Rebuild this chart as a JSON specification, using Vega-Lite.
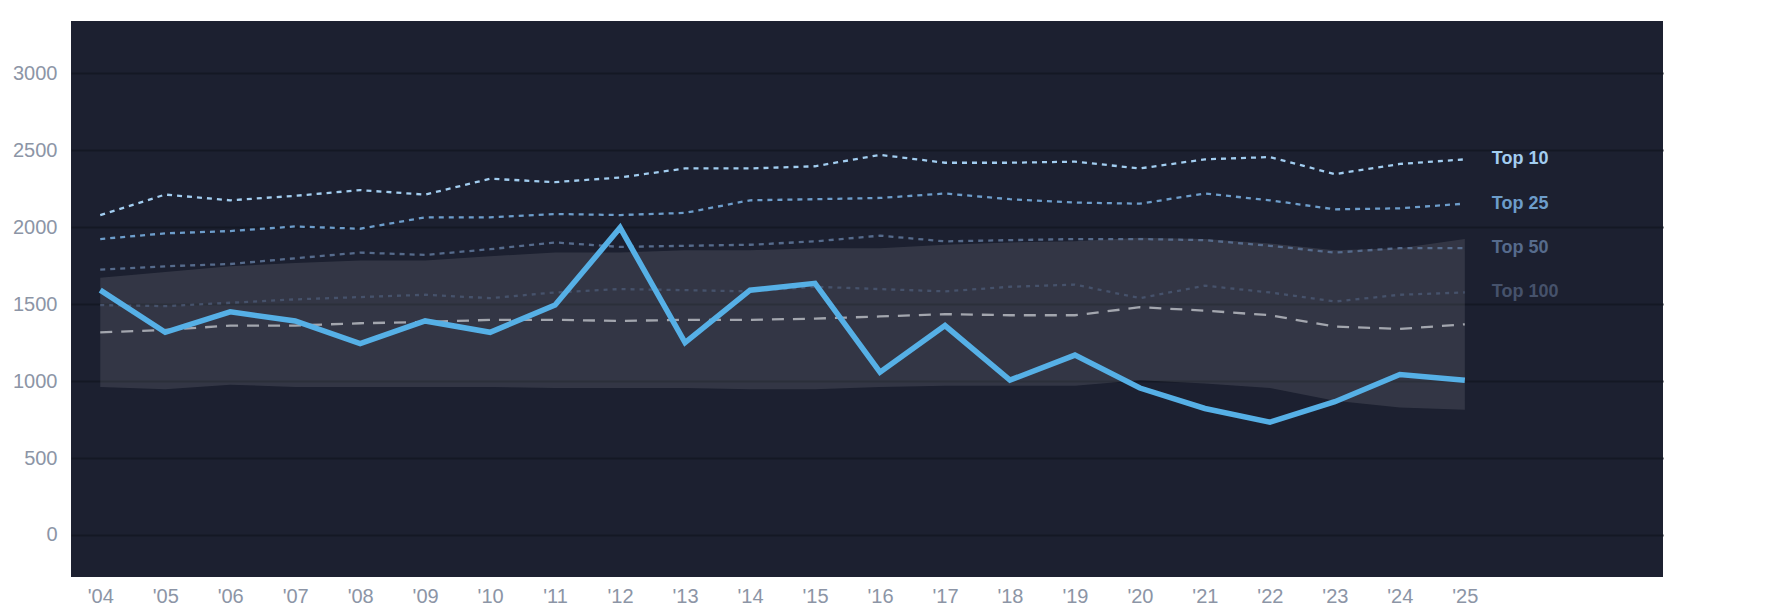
{
  "$schema": "https://vega.github.io/schema/vega-lite/v6.json",
  "autosize": "none",
  "width": 1592,
  "height": 556,
  "padding": {"left": 71, "top": 21, "right": 122, "bottom": 37},
  "background": "#ffffff",
  "config": {
    "view": {"fill": "#1c2030", "stroke": null},
    "font": "Liberation Sans",
    "axis": {
      "labelColor": "#8c95a6",
      "labelFontSize": 20,
      "domain": false,
      "ticks": false,
      "title": null
    }
  },
  "data": {
    "values": [
      {"year": 2004, "main": 1591, "Top 10": 2079, "Top 25": 1923, "Top 50": 1724, "Top 100": 1494, "median": 1317, "lo": 962, "hi": 1672},
      {"year": 2005, "main": 1317, "Top 10": 2212, "Top 25": 1960, "Top 50": 1746, "Top 100": 1487, "median": 1332, "lo": 947, "hi": 1709},
      {"year": 2006, "main": 1450, "Top 10": 2175, "Top 25": 1975, "Top 50": 1761, "Top 100": 1509, "median": 1361, "lo": 977, "hi": 1746},
      {"year": 2007, "main": 1391, "Top 10": 2204, "Top 25": 2005, "Top 50": 1798, "Top 100": 1531, "median": 1361, "lo": 962, "hi": 1768},
      {"year": 2008, "main": 1243, "Top 10": 2241, "Top 25": 1990, "Top 50": 1835, "Top 100": 1546, "median": 1376, "lo": 962, "hi": 1783},
      {"year": 2009, "main": 1391, "Top 10": 2212, "Top 25": 2064, "Top 50": 1820, "Top 100": 1561, "median": 1384, "lo": 962, "hi": 1783},
      {"year": 2010, "main": 1317, "Top 10": 2315, "Top 25": 2064, "Top 50": 1857, "Top 100": 1539, "median": 1398, "lo": 962, "hi": 1812},
      {"year": 2011, "main": 1494, "Top 10": 2293, "Top 25": 2086, "Top 50": 1901, "Top 100": 1576, "median": 1398, "lo": 955, "hi": 1835},
      {"year": 2012, "main": 1997, "Top 10": 2323, "Top 25": 2079, "Top 50": 1872, "Top 100": 1598, "median": 1391, "lo": 955, "hi": 1835},
      {"year": 2013, "main": 1250, "Top 10": 2382, "Top 25": 2093, "Top 50": 1879, "Top 100": 1591, "median": 1398, "lo": 955, "hi": 1850},
      {"year": 2014, "main": 1591, "Top 10": 2382, "Top 25": 2175, "Top 50": 1886, "Top 100": 1583, "median": 1398, "lo": 947, "hi": 1850},
      {"year": 2015, "main": 1635, "Top 10": 2396, "Top 25": 2182, "Top 50": 1908, "Top 100": 1613, "median": 1406, "lo": 947, "hi": 1864},
      {"year": 2016, "main": 1058, "Top 10": 2470, "Top 25": 2190, "Top 50": 1945, "Top 100": 1598, "median": 1420, "lo": 962, "hi": 1864},
      {"year": 2017, "main": 1361, "Top 10": 2419, "Top 25": 2219, "Top 50": 1908, "Top 100": 1583, "median": 1435, "lo": 970, "hi": 1886},
      {"year": 2018, "main": 1006, "Top 10": 2419, "Top 25": 2182, "Top 50": 1916, "Top 100": 1613, "median": 1428, "lo": 970, "hi": 1901},
      {"year": 2019, "main": 1169, "Top 10": 2426, "Top 25": 2160, "Top 50": 1923, "Top 100": 1627, "median": 1428, "lo": 970, "hi": 1908},
      {"year": 2020, "main": 955, "Top 10": 2382, "Top 25": 2153, "Top 50": 1923, "Top 100": 1539, "median": 1480, "lo": 1006, "hi": 1931},
      {"year": 2021, "main": 822, "Top 10": 2441, "Top 25": 2219, "Top 50": 1916, "Top 100": 1620, "median": 1458, "lo": 984, "hi": 1923},
      {"year": 2022, "main": 733, "Top 10": 2456, "Top 25": 2175, "Top 50": 1879, "Top 100": 1576, "median": 1428, "lo": 955, "hi": 1894},
      {"year": 2023, "main": 866, "Top 10": 2345, "Top 25": 2116, "Top 50": 1835, "Top 100": 1517, "median": 1354, "lo": 873, "hi": 1850},
      {"year": 2024, "main": 1043, "Top 10": 2411, "Top 25": 2123, "Top 50": 1864, "Top 100": 1561, "median": 1339, "lo": 829, "hi": 1864},
      {"year": 2025, "main": 1006, "Top 10": 2441, "Top 25": 2153, "Top 50": 1864, "Top 100": 1576, "median": 1369, "lo": 814, "hi": 1923}
    ]
  },
  "encoding": {
    "x": {
      "field": "year",
      "type": "quantitative",
      "scale": {"domain": [2003.55, 2028.05], "nice": false, "zero": false},
      "axis": {
        "values": [2004, 2005, 2006, 2007, 2008, 2009, 2010, 2011, 2012, 2013, 2014, 2015, 2016, 2017, 2018, 2019, 2020, 2021, 2022, 2023, 2024, 2025],
        "labelExpr": "\"'\" + substring(toString(datum.value), 2)",
        "grid": false,
        "labelPadding": 9
      }
    }
  },
  "layer": [
    {
      "mark": {"type": "area", "fill": "#ffffff", "opacity": 0.1},
      "encoding": {
        "y": {
          "field": "lo",
          "type": "quantitative",
          "scale": {"domain": [-273, 3340], "nice": false, "zero": false},
          "axis": {
            "values": [0, 500, 1000, 1500, 2000, 2500, 3000],
            "format": "d",
            "grid": true,
            "gridColor": "#141824",
            "gridWidth": 2,
            "labelPadding": 14
          }
        },
        "y2": {"field": "hi"}
      }
    },
    {
      "transform": [
        {"fold": ["Top 10", "Top 25", "Top 50", "Top 100", "median"], "as": ["series", "value"]}
      ],
      "mark": {"type": "line"},
      "encoding": {
        "y": {"field": "value", "type": "quantitative"},
        "color": {
          "field": "series",
          "type": "nominal",
          "legend": null,
          "scale": {
            "domain": ["Top 10", "Top 25", "Top 50", "Top 100", "median"],
            "range": ["#a2cdf0", "#6d9dcb", "#566b8c", "#46526b", "#a3a6ae"]
          }
        },
        "strokeDash": {
          "field": "series",
          "type": "nominal",
          "legend": null,
          "scale": {
            "domain": ["Top 10", "Top 25", "Top 50", "Top 100", "median"],
            "range": [[5, 5], [5, 5], [5, 5], [4, 5], [12, 9]]
          }
        },
        "strokeWidth": {
          "field": "series",
          "type": "nominal",
          "legend": null,
          "scale": {
            "domain": ["Top 10", "Top 25", "Top 50", "Top 100", "median"],
            "range": [2.3, 2.3, 2.3, 2, 3]
          }
        }
      }
    },
    {
      "mark": {"type": "line", "color": "#56b0e6", "strokeWidth": 5.5, "strokeJoin": "miter"},
      "encoding": {
        "y": {"field": "main", "type": "quantitative"}
      }
    },
    {
      "transform": [
        {"filter": "datum.year === 2025"},
        {"fold": ["Top 10", "Top 25", "Top 50", "Top 100"], "as": ["series", "value"]}
      ],
      "mark": {"type": "text", "align": "left", "baseline": "middle", "dx": 27, "fontSize": 18, "fontWeight": "bold"},
      "encoding": {
        "y": {"field": "value", "type": "quantitative"},
        "text": {"field": "series"},
        "color": {
          "field": "series",
          "type": "nominal",
          "legend": null,
          "scale": {
            "domain": ["Top 10", "Top 25", "Top 50", "Top 100"],
            "range": ["#a2cdf0", "#6d9dcb", "#566b8c", "#46526b"]
          }
        }
      }
    }
  ]
}
